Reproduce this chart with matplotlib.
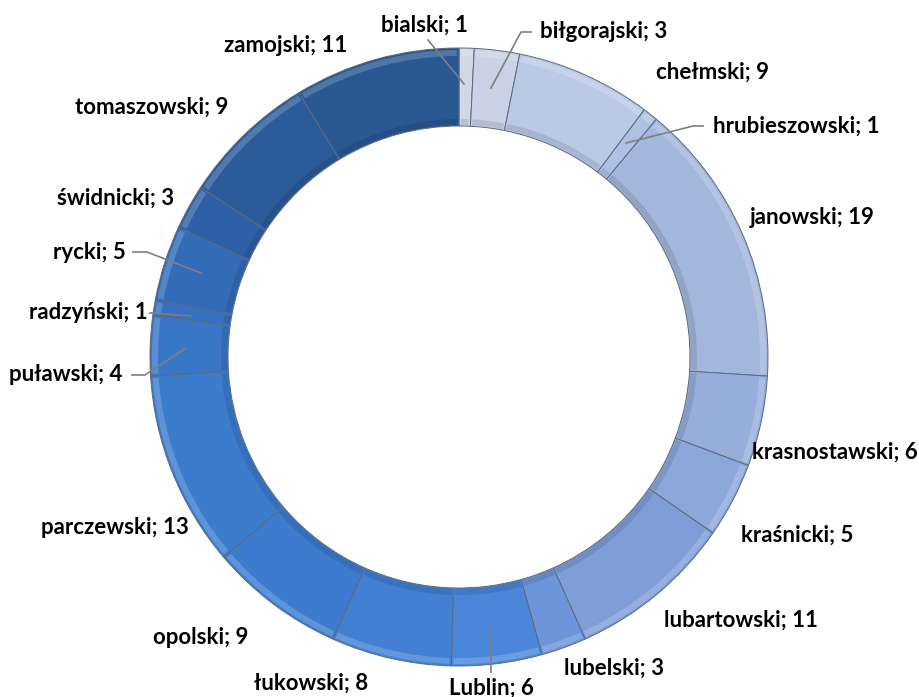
import matplotlib
matplotlib.use("Agg")
import matplotlib.pyplot as plt
from matplotlib.patches import Wedge

categories = ["bialski", "biłgorajski", "chełmski", "hrubieszowski", "janowski",
              "krasnostawski", "kraśnicki", "lubartowski", "lubelski", "Lublin",
              "łukowski", "opolski", "parczewski", "puławski", "radzyński",
              "rycki", "świdnicki", "tomaszowski", "zamojski"]
values = [1, 3, 9, 1, 19, 6, 5, 11, 3, 6, 8, 9, 13, 4, 1, 5, 3, 9, 11]

colors = ["#D0D8E6", "#C9D3E5", "#BACAE6", "#B0C2E4", "#A3B6DB",
          "#97AEDB", "#8CA8DB", "#7F9ED8", "#6C95DA", "#4A87DA",
          "#4280D3", "#3C7BCE", "#3B7CCC", "#3876C6", "#3670BE",
          "#346BB8", "#2F60A5", "#2C5B9B", "#2A5893"]

W, H = 920, 697
# label layout (pixel coords, y from top): (x, y, ha)
label_pos = [(424, 25, "center"), (540, 32, "left"), (713, 72, "center"),
             (713, 126, "left"), (812, 218, "center"), (752, 452, "left"),
             (797, 535, "center"), (741, 620, "center"), (614, 668, "center"),
             (491, 688, "center"), (311, 683, "center"), (201, 638, "center"),
             (115, 528, "center"), (66, 375, "center"), (88, 313, "center"),
             (89, 253, "center"), (116, 198, "center"), (152, 107, "center"),
             (286, 45, "center")]
# leader lines: index -> list of pixel points from text side to wedge
leaders = {0: [(428, 40), (464, 84)],
           1: [(531, 32), (521, 32), (491, 88)],
           3: [(703, 126), (693, 126), (626, 143)],
           9: [(491, 672), (491, 627)],
           13: [(132, 375), (145, 375), (186, 348)],
           14: [(150, 313), (191, 316)],
           15: [(133, 252), (147, 252), (201, 273)]}

fig = plt.figure(figsize=(W / 100, H / 100), dpi=100)
ax = fig.add_axes([0, 0, 1, 1])

cx, cy = 459, H - 357
R = 309
width = 78

wedges, _ = ax.pie(values, colors=colors, startangle=90, counterclock=False,
                   center=(cx, cy), radius=R, frame=True,
                   wedgeprops=dict(width=width, edgecolor="#5a6a80", linewidth=0.7))
ax.set_xlim(0, W)
ax.set_ylim(0, H)
ax.set_aspect("equal")
ax.axis("off")

# subtle bevel: light outer rim and darker inner rim
for w in wedges:
    th1, th2 = w.theta1, w.theta2
    ax.add_patch(Wedge((cx, cy), R - 2, th1 + 0.4, th2 - 0.4, width=6,
                       facecolor="white", alpha=0.18, linewidth=0))
    ax.add_patch(Wedge((cx, cy), R - width + 7, th1 + 0.4, th2 - 0.4, width=6,
                       facecolor="black", alpha=0.10, linewidth=0))

for i, (cat, v) in enumerate(zip(categories, values)):
    x, y, ha = label_pos[i]
    ax.text(x, H - y, f"{cat}; {v}", ha=ha, va="center", fontsize=16,
            fontweight="bold", family=["Lato", "DejaVu Sans"], color="#000000")

for i, pts in leaders.items():
    xs = [p[0] for p in pts]
    ys = [H - p[1] for p in pts]
    ax.plot(xs, ys, color="#7f7f7f", linewidth=1.2, zorder=5)

fig.savefig("out.png", dpi=100)
